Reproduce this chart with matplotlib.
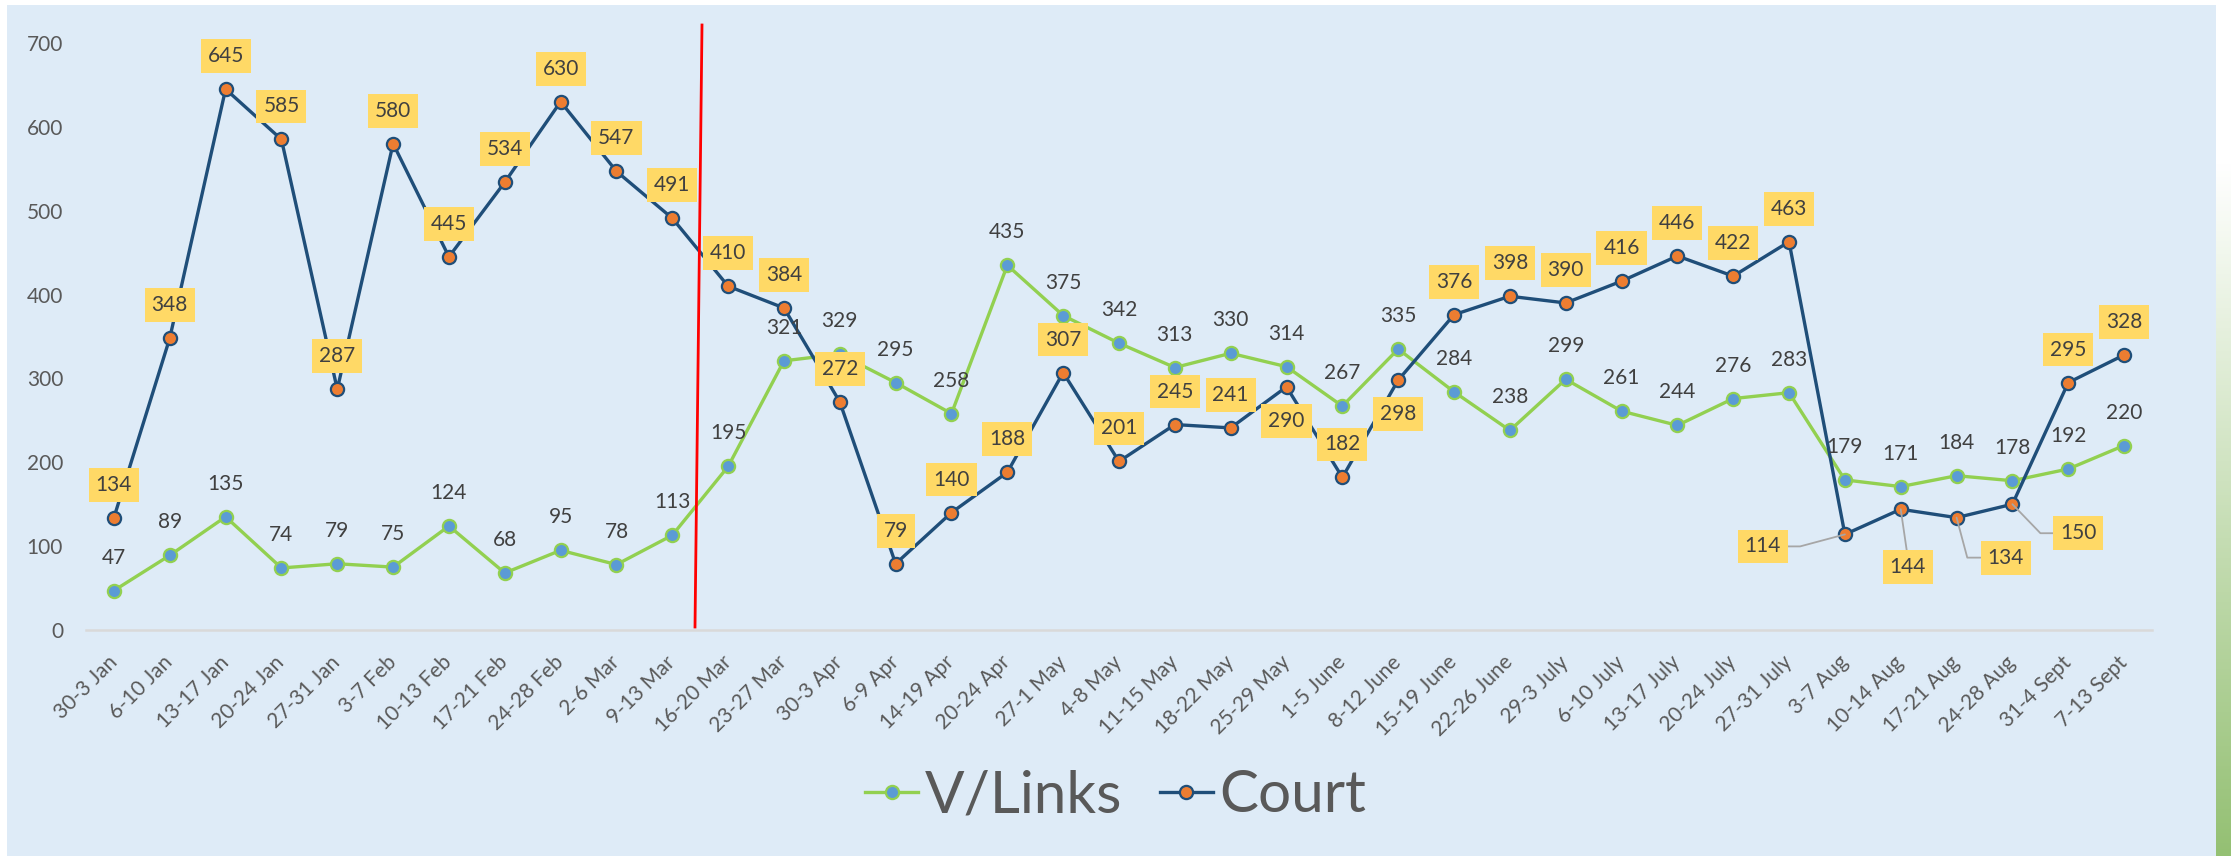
import numpy as np
import matplotlib
matplotlib.use("Agg")
import matplotlib.pyplot as plt
from matplotlib.lines import Line2D
from matplotlib.patches import Rectangle

# ---------------- data ----------------
weeks = ["30-3 Jan", "6-10 Jan", "13-17 Jan", "20-24 Jan", "27-31 Jan", "3-7 Feb",
         "10-13 Feb", "17-21 Feb", "24-28 Feb", "2-6 Mar", "9-13 Mar", "16-20 Mar",
         "23-27 Mar", "30-3 Apr", "6-9 Apr", "14-19 Apr", "20-24 Apr", "27-1 May",
         "4-8 May", "11-15 May", "18-22 May", "25-29 May", "1-5 June", "8-12 June",
         "15-19 June", "22-26 June", "29-3 July", "6-10 July", "13-17 July",
         "20-24 July", "27-31 July", "3-7 Aug", "10-14 Aug", "17-21 Aug",
         "24-28 Aug", "31-4 Sept", "7-13 Sept"]
vlinks = [47, 89, 135, 74, 79, 75, 124, 68, 95, 78, 113, 195, 321, 329, 295, 258,
          435, 375, 342, 313, 330, 314, 267, 335, 284, 238, 299, 261, 244, 276,
          283, 179, 171, 184, 178, 192, 220]
court = [134, 348, 645, 585, 287, 580, 445, 534, 630, 547, 491, 410, 384, 272, 79,
         140, 188, 307, 201, 245, 241, 290, 182, 298, 376, 398, 390, 416, 446, 422,
         463, 114, 144, 134, 150, 295, 328]
yticks = [0, 100, 200, 300, 400, 500, 600, 700]

# ---------------- styles ----------------
W, H = 2231, 856
DPI = 100
BG = "#DEEBF7"
GREEN = "#92D050"
BLUE = "#5B9BD5"
NAVY = "#1F4E79"
ORANGE = "#ED7D31"
BOX = "#FFD966"
TXT = "#404040"
GREY = "#595959"
FONT = "Lato"

plt.rcParams["font.family"] = [FONT, "DejaVu Sans"]

fig = plt.figure(figsize=(W / DPI, H / DPI), dpi=DPI, facecolor="white")

# chart area background (its own axes behind everything)
bgax = fig.add_axes([0, 0, 1, 1], zorder=-10)
bgax.set_axis_off()
bgax.set_xlim(0, W)
bgax.set_ylim(H, 0)
bgax.add_patch(Rectangle((7, 5), 2216 - 7, H - 5, facecolor=BG, edgecolor="none"))

# right green gradient strip
n = 256
grad = np.ones((n, 1, 3))
top_col = np.array([1.0, 1.0, 1.0])
bot_col = np.array([0x94, 0xC0, 0x73]) / 255.0
start = 164 / H
for i in range(n):
    f = i / (n - 1)  # 0 top -> 1 bottom
    if f < start:
        grad[i, 0] = top_col
    else:
        t = (f - start) / (1 - start)
        grad[i, 0] = top_col * (1 - t) + bot_col * t
bgax.imshow(grad, aspect="auto", extent=[2216, W, H, 0])
bgax.set_xlim(0, W)
bgax.set_ylim(H, 0)

left = 86 / W
right = 2152 / W
bottom = (H - 630) / H
top = (H - 43) / H
ax = fig.add_axes([left, bottom, right - left, top - bottom], zorder=1)
ax.set_facecolor("none")

x = np.arange(len(weeks))
ax.plot(x, vlinks, color=GREEN, lw=2.4, marker="o", markersize=9.5,
        markerfacecolor=BLUE, markeredgecolor=GREEN, markeredgewidth=1.6,
        label="V/Links", zorder=3, solid_joinstyle="round")
ax.plot(x, court, color=NAVY, lw=2.4, marker="o", markersize=9.5,
        markerfacecolor=ORANGE, markeredgecolor=NAVY, markeredgewidth=1.6,
        label="Court", zorder=4, solid_joinstyle="round")

ax.set_xlim(-0.5, len(weeks) - 0.5)
ax.set_ylim(0, 700)
ax.set_yticks(yticks)
ax.set_yticklabels([str(v) for v in yticks])
ax.set_xticks(x)
ax.set_xticklabels(weeks, rotation=45, ha="right", va="center",
                   rotation_mode="anchor")
ax.tick_params(axis="y", length=0, pad=16.5, labelsize=15, labelcolor=GREY)
ax.tick_params(axis="x", length=0, pad=21, labelsize=15, labelcolor=GREY)
for s in ["top", "right", "left"]:
    ax.spines[s].set_visible(False)
ax.spines["bottom"].set_color("#D9D9D9")
ax.spines["bottom"].set_linewidth(1.8)

# V/Links labels (plain text above)
for i, v in enumerate(vlinks):
    ax.annotate(str(v), (i, v), xytext=(0, 33), textcoords="offset pixels",
                ha="center", va="center", fontsize=15, color=TXT, zorder=6)

# Court labels (yellow boxes)
court_offsets = {21: (0, -34), 23: (0, -34), 31: (-82, -12), 32: (7, -58),
                 33: (49, -40), 34: (66, -29)}
leaders = {31: ((1, 0.5), "angle,angleA=0,angleB=15,rad=0"),
           32: ((0.5, 1), "arc3,rad=0"),
           33: ((0, 0.5), "angle,angleA=0,angleB=105,rad=0"),
           34: ((0, 0.5), "angle,angleA=0,angleB=134,rad=0")}
for i, v in enumerate(court):
    off = court_offsets.get(i, (0, 33))
    kw = {}
    if i in leaders:
        rp, cs = leaders[i]
        kw["arrowprops"] = dict(arrowstyle="-", color="#A6A6A6", lw=1.3,
                                shrinkA=0, shrinkB=0, relpos=rp,
                                connectionstyle=cs)
    ax.annotate(str(v), (i, v), xytext=off, textcoords="offset pixels",
                ha="center", va="center", fontsize=15, color=TXT, zorder=7,
                bbox=dict(boxstyle="square,pad=0.33", facecolor=BOX,
                          edgecolor="none"), **kw)

# red divider line (drawn shape)
fig.add_artist(Line2D([702 / W, 695 / W], [1 - 25 / H, 1 - 627 / H],
                      transform=fig.transFigure, color="#FF0000", lw=2.0,
                      zorder=5))

# legend
fig.legend(loc="center", bbox_to_anchor=(1116 / W, 1 - 796 / H), ncol=2,
           frameon=False, fontsize=42, handlelength=0.9, handletextpad=0.12,
           columnspacing=0.65, labelcolor=GREY, borderaxespad=0)

fig.savefig("out.png", dpi=DPI, facecolor="white")
